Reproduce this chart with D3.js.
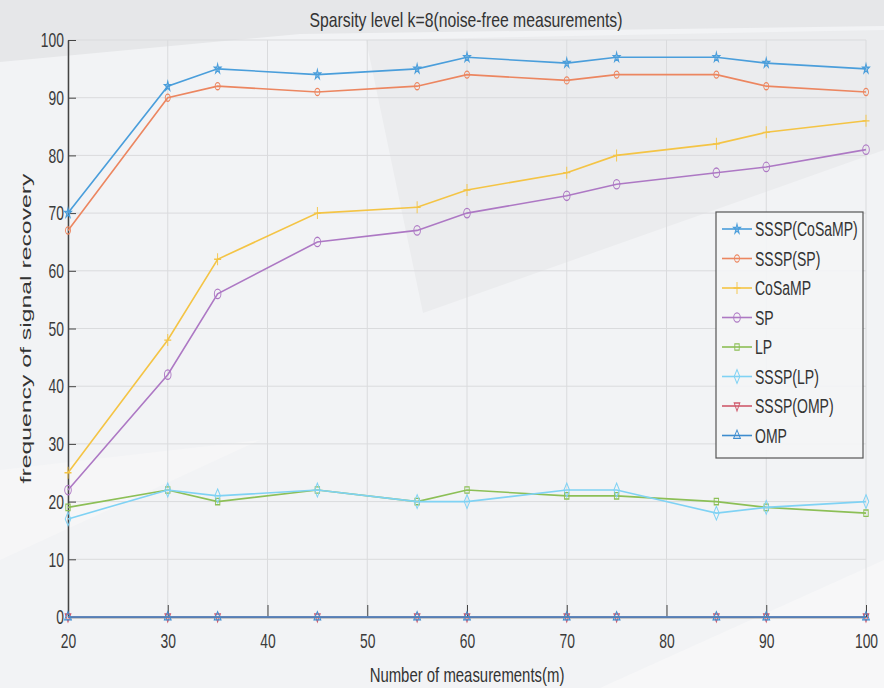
<!DOCTYPE html>
<html lang="en">
<head>
    <meta charset="UTF-8">
    <title>Sparsity level k=8</title>
    <script src="https://d3js.org/d3.v7.min.js"></script>
</head>
<style>
    body {
        margin: 0;
        padding: 0;
        background: #f2f3f5;
    }
    svg {
        display: block;
        font-family: "Liberation Sans", Arial, sans-serif;
    }
    .grid line {
        stroke: #dadbdd;
        stroke-width: 1px;
    }
    .axis path, .axis line {
        stroke: #444;
    }
    .axis text {
        fill: #3a3a3a;
        font-size: 21px;
    }
</style>
<body>
<div class="chart"></div>
<script>
  /** DATA */
  var measurements = [20, 30, 35, 45, 55, 60, 70, 75, 85, 90, 100];
  var seriesNames = ['SSSP(CoSaMP)', 'SSSP(SP)', 'CoSaMP', 'SP', 'LP', 'SSSP(LP)', 'SSSP(OMP)', 'OMP'];
  var ssspCosamp = [70, 92, 95, 94, 95, 97, 96, 97, 97, 96, 95];
  var ssspSp     = [67, 90, 92, 91, 92, 94, 93, 94, 94, 92, 91];
  var cosamp     = [25, 48, 62, 70, 71, 74, 77, 80, 82, 84, 86];
  var sp         = [22, 42, 56, 65, 67, 70, 73, 75, 77, 78, 81];
  var lp         = [19, 22, 20, 22, 20, 22, 21, 21, 20, 19, 18];
  var ssspLp     = [17, 22, 21, 22, 20, 20, 22, 22, 18, 19, 20];
  var ssspOmp    = [0, 0, 0, 0, 0, 0, 0, 0, 0, 0, 0];
  var omp        = [0, 0, 0, 0, 0, 0, 0, 0, 0, 0, 0];
  var xTicks = [20, 30, 40, 50, 60, 70, 80, 90, 100];
  var yTicks = [0, 10, 20, 30, 40, 50, 60, 70, 80, 90, 100];

  var seriesValues = [ssspCosamp, ssspSp, cosamp, sp, lp, ssspLp, ssspOmp, omp];
  var colors = ['#4a9edb', '#ec8660', '#f4c445', '#ad78c4', '#8cbf56', '#7fd2f4', '#cf5a6c', '#3d8ccf'];
  var markers = ['star', 'circleS', 'plus', 'circle', 'square', 'diamond', 'triDown', 'triUp'];

  var width = 884, height = 688;
  var plotLeft = 68, plotRight = 866, plotTop = 40, plotBottom = 617;

  var svg = d3.select('.chart').append('svg')
    .attr('width', width)
    .attr('height', height);

  /** squeeze text horizontally, the picture is narrow */
  function squeeze(sel, k) {
    sel.each(function () {
      var w = this.getComputedTextLength();
      d3.select(this).attr('textLength', w * k).attr('lengthAdjust', 'spacingAndGlyphs');
    });
  }

  /** background facets */
  var bg = svg.append('g');
  bg.append('rect').attr('width', width).attr('height', height).attr('fill', '#f2f3f5');
  bg.append('polygon').attr('points', '0,0 884,0 884,26 300,34 0,62').attr('fill', '#e6e7e9');
  bg.append('polygon').attr('points', '366,40 884,30 884,150 423,313').attr('fill', '#ebecee');
  bg.append('polygon').attr('points', '0,470 260,440 0,560').attr('fill', '#f6f6f7');
  bg.append('polygon').attr('points', '600,688 884,560 884,688').attr('fill', '#f7f7f8');

  var x = d3.scaleLinear().domain([20, 100]).range([plotLeft, plotRight]);
  var y = d3.scaleLinear().domain([0, 100]).range([plotBottom, plotTop]);

  /** grid */
  var grid = svg.append('g').classed('grid', true);
  grid.selectAll('.gx').data(xTicks).enter().append('line')
    .attr('x1', function (d) { return x(d); })
    .attr('x2', function (d) { return x(d); })
    .attr('y1', plotTop).attr('y2', plotBottom);
  grid.selectAll('.gy').data(yTicks).enter().append('line')
    .attr('x1', plotLeft).attr('x2', plotRight)
    .attr('y1', function (d) { return y(d); })
    .attr('y2', function (d) { return y(d); });

  /** axes, ticks pointing inward */
  svg.append('g').classed('axis', true)
    .attr('transform', 'translate(0,' + plotBottom + ')')
    .call(d3.axisBottom(x).tickValues(xTicks).tickSizeInner(-12).tickSizeOuter(0).tickPadding(16));
  svg.append('g').classed('axis', true)
    .attr('transform', 'translate(' + plotLeft + ',0)')
    .call(d3.axisLeft(y).tickValues(yTicks).tickSizeInner(-8).tickSizeOuter(0).tickPadding(4));
  svg.selectAll('.axis .domain').attr('stroke-width', 1.5);
  squeeze(svg.selectAll('.axis text'), 0.66);

  /** markers */
  function markerPath(type) {
    if (type === 'plus') return 'M-5,0H5M0,-6V6';
    if (type === 'circle') return d3.symbol().type(d3.symbolCircle).size(70)();
    if (type === 'circleS') return d3.symbol().type(d3.symbolCircle).size(40)();
    if (type === 'star') return d3.symbol().type(d3.symbolStar).size(30)();
    if (type === 'square') return d3.symbol().type(d3.symbolSquare).size(40)();
    if (type === 'diamond') return d3.symbol().type(d3.symbolDiamond).size(55)();
    if (type === 'triUp') return d3.symbol().type(d3.symbolTriangle).size(40)();
    return 'M-4,-3L4,-3L0,5Z';
  }

  var line = d3.line()
    .x(function (d, i) { return x(measurements[i]); })
    .y(function (d) { return y(d); });

  var series = svg.append('g').selectAll('g')
    .data(seriesValues)
    .enter().append('g');

  series.append('path')
    .attr('d', function (d) { return line(d); })
    .attr('fill', 'none')
    .attr('stroke', function (_, i) { return colors[i]; })
    .attr('stroke-width', 1.6);

  series.each(function (vals, i) {
    d3.select(this).selectAll('.m').data(vals).enter().append('path')
      .attr('d', markerPath(markers[i]))
      .attr('transform', function (d, j) {
        return 'translate(' + x(measurements[j]) + ',' + y(d) + ') scale(0.7,1)';
      })
      .attr('fill', markers[i] === 'star' ? colors[i] : 'none')
      .attr('fill-opacity', 0.5)
      .attr('stroke', colors[i])
      .attr('stroke-width', 1.3);
  });

  /** legend */
  var legendLeftX = 716, legendTopY = 212;
  var legend = svg.append('g')
    .attr('transform', 'translate(' + legendLeftX + ',' + legendTopY + ')');
  legend.append('rect')
    .attr('width', 147).attr('height', 246)
    .attr('fill', '#f4f5f6').attr('fill-opacity', 0.9)
    .attr('stroke', '#555').attr('stroke-width', 1.2);

  var legendItem = legend.selectAll('.item')
    .data(seriesNames)
    .enter().append('g')
    .attr('transform', function (_, i) { return 'translate(0,' + (17 + i * 29.5) + ')'; });
  legendItem.append('line')
    .attr('x1', 6).attr('x2', 36)
    .attr('stroke', function (_, i) { return colors[i]; })
    .attr('stroke-width', 1.6);
  legendItem.append('path')
    .attr('d', function (_, i) { return markerPath(markers[i]); })
    .attr('transform', 'translate(21,0) scale(0.7,1)')
    .attr('fill', function (_, i) { return markers[i] === 'star' ? colors[i] : 'none'; })
    .attr('fill-opacity', 0.5)
    .attr('stroke', function (_, i) { return colors[i]; })
    .attr('stroke-width', 1.3);
  var legendText = legendItem.append('text')
    .attr('x', 39).attr('dy', '0.36em')
    .style('font-size', '20px')
    .attr('fill', '#333')
    .text(function (d) { return d; });
  squeeze(legendText, 0.7);

  /** title and axis labels */
  var title = svg.append('text')
    .attr('x', (plotLeft + plotRight) / 2 - 1).attr('y', 27)
    .style('text-anchor', 'middle')
    .style('font-size', '21px')
    .attr('fill', '#333')
    .text('Sparsity level k=8(noise-free measurements)');
  squeeze(title, 0.75);

  var xLabel = svg.append('text')
    .attr('x', (plotLeft + plotRight) / 2).attr('y', 682)
    .style('text-anchor', 'middle')
    .style('font-size', '21px')
    .attr('fill', '#333')
    .text('Number of measurements(m)');
  squeeze(xLabel, 0.71);

  svg.append('text')
    .attr('transform', 'translate(31,' + ((plotTop + plotBottom) / 2) + ') rotate(-90)')
    .style('text-anchor', 'middle')
    .style('font-size', '15px')
    .attr('fill', '#333')
    .attr('textLength', 310)
    .attr('lengthAdjust', 'spacingAndGlyphs')
    .text('frequency of signal recovery');
</script>
</body>
</html>
